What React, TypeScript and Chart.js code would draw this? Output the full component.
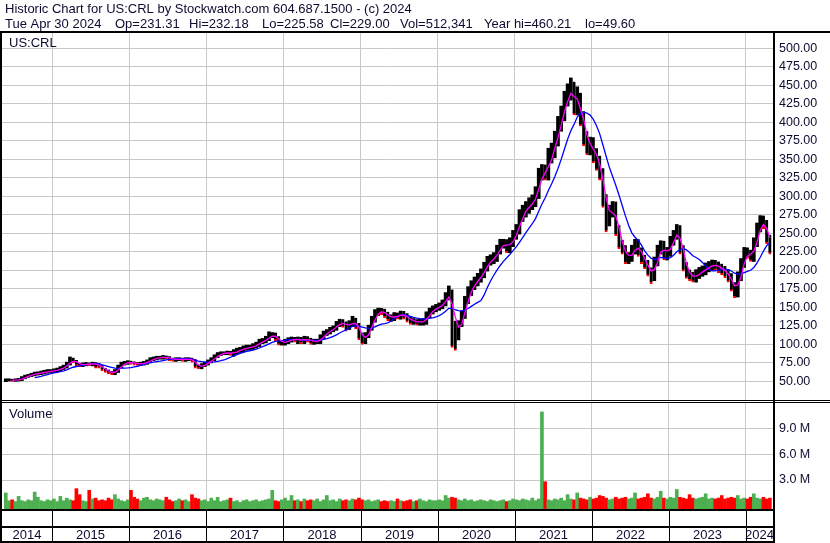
import React, { useEffect, useRef } from "react";
import { Chart, registerables } from "chart.js";

Chart.register(...registerables);

// ---- data (half-month periods, 15 May 2014 .. 30 Apr 2024) ----
const periodStart = 2014.375;
const periodLength = 1 / 24;

const closes = [
  52, 52, 51.5, 52, 52.5, 55, 57, 58, 59.5, 60.5,
  61, 62, 63, 64, 64, 65, 66, 68, 70, 74,
  80, 77, 73, 72, 73, 73.5, 73, 74, 73, 70,
  66, 64, 62, 61, 64, 70, 74, 75, 76, 75,
  74, 73.5, 74, 75, 77, 80, 81, 82, 82, 83,
  82, 80, 79, 80, 80, 79, 80, 80, 78, 70,
  69, 72, 74, 77, 80, 84, 87, 88, 88, 89,
  87, 90, 92, 93, 95, 96, 96, 98, 100, 104,
  105, 108, 112, 113, 108, 102, 102, 104, 106, 107,
  106, 107, 104, 108, 106, 103, 104, 104, 110, 115,
  117, 120, 122, 128, 130, 127, 124, 128, 132, 125,
  112, 104, 112, 122, 134, 143, 145, 144, 140, 136,
  136, 139, 138, 141, 138, 134, 131, 131, 130, 130,
  131, 140, 145, 148, 150, 152, 156, 165, 170, 130,
  112, 128, 140, 160, 172, 180, 185, 190, 196, 205,
  213, 215, 218, 228, 236, 236, 230, 238, 248, 255,
  274, 280, 285, 290, 294, 305, 330, 335, 330, 355,
  362, 378, 398, 412, 432, 440, 445, 420, 430, 405,
  378, 366, 370, 355, 345, 330, 295, 268, 280, 285,
  255, 235, 228, 215, 218, 228, 236, 225, 215, 208,
  198, 192, 212, 228, 234, 220, 225, 240, 248, 255,
  228, 205, 195, 192, 190, 195, 198, 200, 204, 206,
  208, 206, 203, 200, 196, 190, 178, 170, 192, 210,
  225, 222, 218, 238, 258, 266, 262, 242, 228,
];

const highs = [
  53.5, 53.5, 53.5, 53.5, 54, 56.5, 58.5, 59.5, 61, 62.5,
  63, 64, 65, 66, 66, 67, 68, 70, 72, 76,
  83, 82, 79, 75, 75, 75.5, 75.5, 76, 76, 75,
  72, 68, 66, 64, 66, 72, 76, 77, 78, 78,
  77, 76, 76, 77, 79, 82, 83, 84, 84, 85,
  85, 84, 82, 82, 82, 82, 82, 82, 82, 80,
  72, 74, 76, 79, 82, 86, 89, 90, 90, 91,
  91, 93, 95, 96, 98, 99, 99, 101, 103, 107,
  108, 111, 117, 116, 116, 111, 105, 107, 109, 110,
  110, 110, 110, 111, 111, 109, 107, 107, 113, 118,
  120, 123, 125, 131, 134, 134, 131, 132, 138, 136,
  129, 116, 116, 126, 138, 147, 149, 149, 148, 144,
  140, 143, 143, 145, 145, 142, 138, 135, 134, 134,
  135, 144, 149, 152, 154, 156, 160, 170, 179, 174,
  132, 132, 145, 165, 178, 186, 191, 196, 202, 211,
  219, 221, 224, 234, 242, 242, 242, 244, 254, 262,
  282, 288, 293, 298, 302, 313, 338, 343, 343, 365,
  372, 388, 408, 422, 442, 452, 460, 455, 448, 440,
  415, 388, 380, 380, 365, 355, 338, 303, 288, 293,
  293, 261, 241, 234, 224, 234, 242, 242, 231, 221,
  214, 204, 218, 234, 240, 240, 231, 246, 254, 262,
  261, 234, 211, 201, 198, 201, 204, 206, 210, 212,
  214, 214, 212, 209, 206, 202, 196, 184, 198, 216,
  231, 231, 228, 244, 264, 274, 274, 268, 248,
];

const lows = [
  49.6, 50.5, 50, 50, 50.5, 51, 53.5, 55.5, 56.5, 57.5,
  58.5, 59, 60, 61, 62, 62, 63, 64, 66, 68,
  72, 75, 71, 70, 70, 71, 71, 71, 68, 68,
  64, 62, 60, 59, 59, 62, 68, 72, 73, 73,
  72, 71.5, 71.5, 72, 73, 75, 78, 79, 80, 80,
  80, 78, 77, 77, 78, 77, 77, 78, 76, 68,
  67, 67, 70, 72, 75, 78, 82, 85, 86, 86,
  85, 84, 87, 89, 90, 92, 93, 93, 95, 97,
  101, 102, 105, 109, 105, 99, 99, 99, 101, 103,
  103, 101, 101, 101, 103, 100, 100, 101, 101, 107,
  112, 114, 117, 119, 124, 123, 118, 120, 124, 121,
  106, 100, 101, 109, 119, 130, 139, 140, 136, 132,
  131, 132, 134, 134, 134, 130, 127, 127, 126, 126,
  126, 127, 136, 141, 144, 146, 148, 152, 160, 96,
  92, 106, 124, 135, 155, 166, 174, 179, 184, 190,
  199, 207, 209, 212, 222, 230, 224, 224, 232, 242,
  249, 266, 272, 277, 282, 286, 297, 322, 322, 322,
  345, 352, 368, 388, 402, 422, 430, 410, 410, 395,
  368, 356, 356, 345, 335, 322, 285, 252, 260, 272,
  247, 229, 222, 209, 209, 212, 222, 219, 209, 202,
  192, 182, 186, 206, 222, 214, 214, 219, 234, 242,
  222, 199, 189, 186, 184, 184, 189, 192, 194, 198,
  200, 200, 197, 194, 190, 184, 172, 163, 164, 186,
  204, 216, 212, 212, 232, 252, 256, 236, 222,
];

// volume in millions of shares
const volumes = [
  1.5, 0.6, 0.7, 0.5, 1.1, 0.6, 0.5, 0.7, 0.6, 1.6,
  1.0, 0.6, 0.5, 0.7, 0.6, 0.8, 0.5, 1.1, 0.6, 0.9,
  0.7, 0.6, 2.0, 1.3, 0.6, 0.5, 1.8, 0.8, 0.9, 0.6,
  0.7, 0.6, 0.9, 0.7, 1.3, 0.8, 0.6, 0.5, 0.7, 1.8,
  1.0, 0.8, 0.6, 0.9, 1.0, 0.7, 0.6, 0.8, 0.7, 0.6,
  1.0, 0.7, 0.5, 0.6, 0.8, 0.6, 0.7, 0.5, 1.3, 0.9,
  0.8, 0.6, 0.7, 0.5, 0.9, 0.6, 1.0, 0.5, 0.6, 0.7,
  0.9, 0.5, 0.6, 0.4, 0.6, 0.7, 0.5, 0.6, 0.7, 0.5,
  0.6, 0.7, 0.8, 1.8, 0.6, 0.5, 0.7, 0.9, 0.6, 1.2,
  0.6, 0.7, 0.5, 0.8, 0.6, 0.7, 0.6, 0.8, 0.5, 0.7,
  1.2, 0.6, 0.7, 0.5, 0.8, 0.6, 0.7, 0.6, 0.8, 0.7,
  0.9, 0.7, 0.6, 0.7, 0.5, 0.6, 0.7, 0.5, 0.6, 0.5,
  0.6, 0.5, 0.8, 0.6, 0.5, 0.6, 0.7, 0.5, 0.6, 0.8,
  0.6, 0.5, 0.7, 0.6, 0.6, 0.7, 0.6, 1.2, 0.9, 1.0,
  0.9, 0.7, 0.6, 0.8, 0.6, 0.7, 0.5, 0.6, 0.7, 0.6,
  0.5, 0.7, 0.6, 0.5, 0.6, 0.7, 0.5, 0.6, 0.8, 0.7,
  0.6, 0.8, 0.7, 0.6, 0.9, 0.6, 0.8, 10.9, 2.8, 0.7,
  0.6, 0.8, 0.7, 0.9, 0.6, 1.3, 0.8, 0.7, 1.5, 0.9,
  0.8, 0.7, 1.0, 0.8, 0.9, 1.2, 1.1, 0.9, 0.7, 0.8,
  1.0, 0.8, 0.9, 1.0, 0.8, 0.9, 1.5, 0.8, 0.9, 1.0,
  1.4, 0.9, 0.8, 1.0, 1.7, 0.9, 0.8, 1.0, 0.9, 1.9,
  1.0, 0.9, 0.8, 1.3, 0.9, 0.8, 0.9, 1.0, 1.4, 0.8,
  0.9, 0.8, 0.9, 1.2, 0.8, 0.9, 1.0, 0.9, 1.2, 0.8,
  0.9, 0.8, 1.0, 1.4, 0.9, 0.8, 1.0, 0.8, 0.9,
];

const yearLabels = ["2014", "2015", "2016", "2017", "2018", "2019", "2020", "2021", "2022", "2023", "2024"];
const yearBoundaries = [2015, 2016, 2017, 2018, 2019, 2020, 2021, 2022, 2023, 2024];
const priceTicks = [50, 75, 100, 125, 150, 175, 200, 225, 250, 275, 300, 325, 350, 375, 400, 425, 450, 475, 500];
const volumeTicks = [3000000, 6000000, 9000000];

const headerLine1 = "Historic Chart for US:CRL by Stockwatch.com 604.687.1500 - (c) 2024";
const headerFields = ["Tue Apr 30 2024", "Op=231.31", "Hi=232.18", "Lo=225.58", "Cl=229.00", "Vol=512,341", "Year hi=460.21", "lo=49.60"];
const headerFieldX = [5, 115, 189, 262, 330, 400, 484, 585];

const fastPeriods = 3;
const slowPeriods = 10;

// ---- helpers ----
const X_MIN = 2014.347;
const X_MAX = 2024.353;
const FONT = '"Liberation Sans", Arial, sans-serif';
const TEXT = "#0c0c30";
const GRID = "#c8c8c8";

const xOf = (i: number) => periodStart + (i + 0.5) * periodLength;

function movingAverage(values: number[], n: number) {
  const out: { x: number; y: number }[] = [];
  for (let i = n - 1; i < values.length; i++) {
    let s = 0;
    for (let k = i - n + 1; k <= i; k++) s += values[k];
    out.push({ x: xOf(i), y: s / n });
  }
  return out;
}

const isDown = (i: number) => i > 0 && closes[i] < closes[i - 1];

const xScale = (height: number) => ({
  type: "linear" as const,
  min: X_MIN,
  max: X_MAX,
  bounds: "data" as const,
  offset: false,
  grid: { color: GRID, lineWidth: 1, drawTicks: false, offset: false },
  border: { display: false },
  ticks: { display: false },
  afterBuildTicks: (axis: any) => {
    axis.ticks = yearBoundaries.map((v) => ({ value: v }));
  },
  afterFit: (axis: any) => {
    axis.height = height;
    axis.paddingLeft = 0;
    axis.paddingRight = 0;
    axis.paddingTop = 0;
    axis.paddingBottom = 0;
  },
});

const yFit = (axis: any) => {
  axis.width = 57;
  axis.paddingTop = 0;
  axis.paddingBottom = 0;
  axis.paddingLeft = 0;
  axis.paddingRight = 0;
};

const pricePlugin = {
  id: "pricePanel",
  afterDraw(chart: any) {
    const ctx = chart.ctx as CanvasRenderingContext2D;
    ctx.save();
    ctx.fillStyle = TEXT;
    ctx.font = `13px ${FONT}`;
    ctx.textBaseline = "alphabetic";
    ctx.textAlign = "left";
    ctx.fillText(headerLine1, 5, 13);
    headerFields.forEach((t, k) => ctx.fillText(t, headerFieldX[k], 28));
    ctx.fillText("US:CRL", 9, 47);
    ctx.fillStyle = "#000";
    ctx.fillRect(0, 31, 830, 2);
    ctx.fillRect(0, 31, 2, 370);
    ctx.fillRect(773, 31, 2, 370);
    ctx.fillRect(0, 400, 830, 1);
    ctx.restore();
  },
};

const volumePlugin = {
  id: "volumePanel",
  afterDraw(chart: any) {
    const ctx = chart.ctx as CanvasRenderingContext2D;
    const xs = chart.scales.x;
    const area = chart.chartArea;
    const bottom = area.bottom;
    ctx.save();
    ctx.fillStyle = "#000";
    ctx.fillRect(0, 1, 830, 1);
    ctx.fillRect(0, 0, 2, 141);
    ctx.fillRect(773, 0, 2, 141);
    ctx.fillRect(0, bottom - 1, 775, 2);
    ctx.fillRect(0, bottom + 16, 775, 2);
    ctx.fillRect(0, bottom + 31, 775, 2);
    const px = yearBoundaries.map((v) => Math.round(xs.getPixelForValue(v)));
    px.forEach((p) => ctx.fillRect(p, bottom, 1, 31));
    const edges = [area.left, ...px, area.right];
    ctx.fillStyle = TEXT;
    ctx.font = `13px ${FONT}`;
    ctx.textAlign = "center";
    ctx.textBaseline = "alphabetic";
    yearLabels.forEach((t, k) => {
      ctx.fillText(t, (edges[k] + edges[k + 1]) / 2, bottom + 29);
    });
    ctx.textAlign = "left";
    ctx.fillText("Volume", 9, 17);
    ctx.restore();
  },
};

export default function App() {
  const priceRef = useRef<HTMLCanvasElement>(null);
  const volRef = useRef<HTMLCanvasElement>(null);

  useEffect(() => {
    const tickFont = { family: FONT, size: 12.5 };
    const price = new Chart(priceRef.current as HTMLCanvasElement, {
      type: "bar",
      data: {
        datasets: [
          {
            type: "line",
            label: "Fast MA",
            data: movingAverage(closes, fastPeriods),
            borderColor: "#ff00ff",
            borderWidth: 1.3,
            pointRadius: 0,
            tension: 0,
            order: 0,
          } as any,
          {
            type: "line",
            label: "Slow MA",
            data: movingAverage(closes, slowPeriods),
            borderColor: "#0000ff",
            borderWidth: 1.3,
            pointRadius: 0,
            tension: 0,
            order: 1,
          } as any,
          {
            type: "bar",
            label: "Range",
            data: highs.map((h, i) => ({ x: xOf(i), y: [lows[i], h] })),
            backgroundColor: "#000",
            borderColor: "#ff0000",
            borderSkipped: false,
            borderWidth: (c: any) => (isDown(c.dataIndex) ? { top: 0, right: 0, bottom: 2, left: 0 } : 0),
            barThickness: 3,
            order: 2,
          } as any,
        ],
      },
      options: {
        animation: false,
        responsive: false,
        maintainAspectRatio: false,
        layout: { padding: { top: 33, left: 2, right: 0, bottom: 0 } },
        plugins: { legend: { display: false }, tooltip: { enabled: false } },
        scales: {
          x: xScale(0) as any,
          y: {
            type: "linear",
            position: "right",
            min: 23.5,
            max: 520.7,
            bounds: "data",
            grid: { color: GRID, lineWidth: 1, drawTicks: false },
            border: { display: false },
            ticks: {
              padding: 6,
              color: TEXT,
              font: tickFont,
              autoSkip: false,
              callback: (v: any) => Number(v).toFixed(2),
            },
            afterBuildTicks: (axis: any) => {
              axis.ticks = priceTicks.map((v) => ({ value: v }));
            },
            afterFit: yFit,
          } as any,
        },
      },
      plugins: [pricePlugin],
    });

    const volume = new Chart(volRef.current as HTMLCanvasElement, {
      type: "bar",
      data: {
        datasets: [
          {
            label: "Volume",
            data: volumes.map((v, i) => ({ x: xOf(i), y: v * 1000000 })),
            backgroundColor: (c: any) => (isDown(c.dataIndex) ? "#ff0000" : "#4caf50"),
            barThickness: 3,
            base: -480000,
          } as any,
        ],
      },
      options: {
        animation: false,
        responsive: false,
        maintainAspectRatio: false,
        layout: { padding: { top: 2, left: 2, right: 0, bottom: 0 } },
        plugins: { legend: { display: false }, tooltip: { enabled: false } },
        scales: {
          x: xScale(33) as any,
          y: {
            type: "linear",
            position: "right",
            min: -480000,
            max: 11940000,
            bounds: "data",
            grid: { color: GRID, lineWidth: 1, drawTicks: false },
            border: { display: false },
            ticks: {
              padding: 6,
              color: TEXT,
              font: tickFont,
              autoSkip: false,
              callback: (v: any) => (Number(v) / 1000000).toFixed(1) + " M",
            },
            afterBuildTicks: (axis: any) => {
              axis.ticks = volumeTicks.map((v) => ({ value: v }));
            },
            afterFit: yFit,
          } as any,
        },
      },
      plugins: [volumePlugin],
    });

    return () => {
      price.destroy();
      volume.destroy();
    };
  }, []);

  return (
    <div style={{ position: "fixed", left: 0, top: 0, width: 830, height: 543, background: "#fff", overflow: "hidden" }}>
      <canvas ref={priceRef} width={830} height={401} style={{ position: "absolute", left: 0, top: 0, width: 830, height: 401 }} />
      <canvas ref={volRef} width={830} height={142} style={{ position: "absolute", left: 0, top: 401, width: 830, height: 142 }} />
    </div>
  );
}
